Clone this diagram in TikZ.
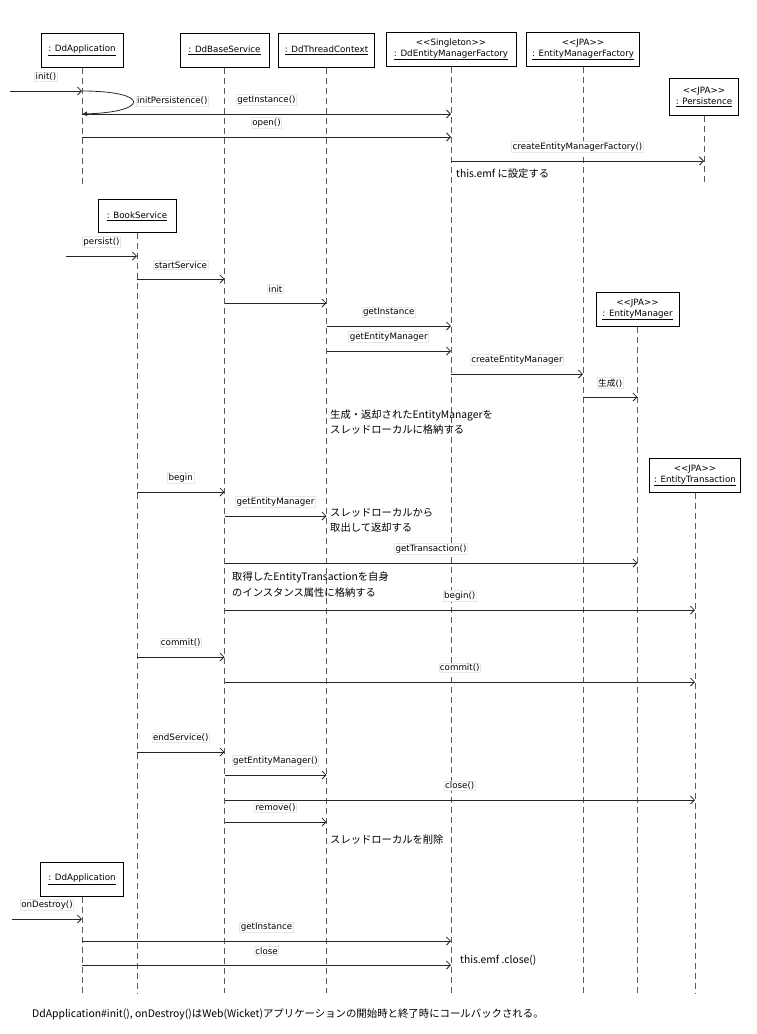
\documentclass[tikz,border=0pt]{standalone}
\usepackage{fontspec}
\setmainfont{DejaVu Sans}
\newfontfamily\jp{Noto Sans CJK JP}
\usetikzlibrary{arrows.meta}
\newcommand{\st}[1]{<\kern0pt<#1>\kern0pt>}

\begin{document}
\begin{tikzpicture}[x=1pt,y=-1pt,
  obj/.style={draw,line width=.9pt,fill=white,minimum height=34pt,inner sep=2pt,align=center,anchor=north,font=\fontsize{8.7}{11}\selectfont},
  ln/.style={draw=black!65,line width=.9pt,dash pattern=on 6pt off 4pt},
  m/.style={-{Straight Barb[length=4pt,width=8pt]},draw=black!85,line width=.8pt},
  lb/.style={draw=black!9,fill=white,inner sep=1pt,font=\fontsize{8.7}{10}\selectfont},
  ml/.style={lb,yshift=14pt},
  nt/.style={anchor=west,align=left,inner sep=0pt,font=\jp\fontsize{10.3}{15.5}\selectfont}]
  \useasboundingbox (0,0) rectangle (756,1034);
  % objects
  \node[obj,minimum width=82pt] (app) at (82,33) {\underline{: DdApplication}};
  \node[obj,minimum width=89pt] (base) at (224.5,33) {\underline{: DdBaseService}};
  \node[obj,minimum width=96pt] (thr) at (326.5,33) {\underline{: DdThreadContext}};
  \node[obj,minimum width=130pt] (emf) at (451,32) {\st{Singleton}\\\underline{: DdEntityManagerFactory}};
  \node[obj,minimum width=113pt] (jemf) at (583,32) {\st{JPA}\\\underline{: EntityManagerFactory}};
  \node[obj,minimum width=69pt,minimum height=37pt] (pers) at (704,78) {\st{JPA}\\\underline{: Persistence}};
  \node[obj,minimum width=78pt,minimum height=33pt] (book) at (137,199) {\underline{: BookService}};
  \node[obj,minimum width=83pt] (em) at (637.5,292) {\st{JPA}\\\underline{: EntityManager}};
  \node[obj,minimum width=91pt] (et) at (695,458) {\st{JPA}\\\underline{: EntityTransaction}};
  \node[obj,minimum width=83pt] (app2) at (82,862) {\underline{: DdApplication}};
  % lifelines
  \coordinate (e1) at (0,185);
  \coordinate (e2) at (0,993);
  \draw[ln] (app.south) -- (app |- e1);
  \draw[ln] (pers.south) -- (pers |- e1);
  \draw[ln] (base.south) -- (base |- e2);
  \draw[ln] (thr.south) -- (thr |- e2);
  \draw[ln] (emf.south) -- (emf |- e2);
  \draw[ln] (jemf.south) -- (jemf |- e2);
  \draw[ln] (book.south) -- (book |- e2);
  \draw[ln] (em.south) -- (em |- e2);
  \draw[ln] (et.south) -- (et |- e2);
  \draw[ln] (app2.south) -- (app2 |- e2);
  % startup
  \coordinate (s1) at (10,91);
  \draw[m] (s1) -- node[ml] (l1) {init()} (app |- s1);
  \draw[draw=black!85,line width=.8pt,-{Latex[length=5pt,width=5pt]}] (app |- s1) .. controls (150,91) and (150,112) .. (app |- 0,114);
  \node[lb,anchor=west] (l2) at (136,101) {initPersistence()};
  \draw[m] (app |- 0,114) -- node[ml] (l3) {getInstance()} (emf |- 0,114);
  \draw[m] (app |- 0,137) -- node[ml] (l4) {open()} (emf |- 0,137);
  \draw[m] (emf |- 0,161) -- node[ml] (l5) {createEntityManagerFactory()} (pers |- 0,161);
  \node[nt] (n1) at (456,174) {this.emf に設定する};
  % persist
  \coordinate (s2) at (66,256);
  \draw[m] (s2) -- node[ml] (l6) {persist()} (book |- s2);
  \draw[m] (book |- 0,279) -- node[ml] (l7) {startService} (base |- 0,279);
  \draw[m] (base |- 0,303) -- node[ml] (l8) {init} (thr |- 0,303);
  \draw[m] (thr |- 0,326) -- node[ml] (l9) {getInstance} (emf |- 0,326);
  \draw[m] (thr |- 0,351) -- node[ml] (l10) {getEntityManager} (emf |- 0,351);
  \draw[m] (emf |- 0,374) -- node[ml] (l11) {createEntityManager} (jemf |- 0,374);
  \draw[m] (jemf |- 0,397) -- node[ml] (l12) {{\jp 生成}()} (em |- 0,397);
  \node[nt] (n2) at (330,422) {生成・返却されたEntityManagerを\\スレッドローカルに格納する};
  \draw[m] (book |- 0,492) -- node[ml] (l13) {begin} (base |- 0,492);
  \draw[m] (base |- 0,516) -- node[ml] (l14) {getEntityManager} (thr |- 0,516);
  \node[nt] (n3) at (330,520.5) {スレッドローカルから\\取出して返却する};
  \draw[m] (base |- 0,563) -- node[ml] (l15) {getTransaction()} (em |- 0,563);
  \node[nt] (n4) at (232,584.5) {取得したEntityTransactionを自身\\のインスタンス属性に格納する};
  \draw[m] (base |- 0,610) -- node[ml] (l16) {begin()} (et |- 0,610);
  \draw[m] (book |- 0,657) -- node[ml] (l17) {commit()} (base |- 0,657);
  \draw[m] (base |- 0,682) -- node[ml] (l18) {commit()} (et |- 0,682);
  \draw[m] (book |- 0,752) -- node[ml] (l19) {endService()} (base |- 0,752);
  \draw[m] (base |- 0,775) -- node[ml] (l20) {getEntityManager()} (thr |- 0,775);
  \draw[m] (base |- 0,800) -- node[ml] (l21) {close()} (et |- 0,800);
  \draw[m] (base |- 0,822) -- node[ml] (l22) {remove()} (thr |- 0,822);
  \node[nt] (n5) at (330,840) {スレッドローカルを削除};
  % shutdown
  \coordinate (s3) at (12,919);
  \draw[m] (s3) -- node[ml] (l23) {onDestroy()} (app2 |- s3);
  \draw[m] (app2 |- 0,941) -- node[ml] (l24) {getInstance} (emf |- 0,941);
  \draw[m] (app2 |- 0,965) -- node[ml] (l25) {close} (emf |- 0,965);
  \node[nt] (n6) at (460,960) {this.emf .close()};
  \node[nt,font=\jp\fontsize{10.4}{12}\selectfont] (foot) at (32,1014) {DdApplication\#init(), onDestroy()はWeb(Wicket)アプリケーションの開始時と終了時にコールバックされる。};
\end{tikzpicture}
\end{document}
